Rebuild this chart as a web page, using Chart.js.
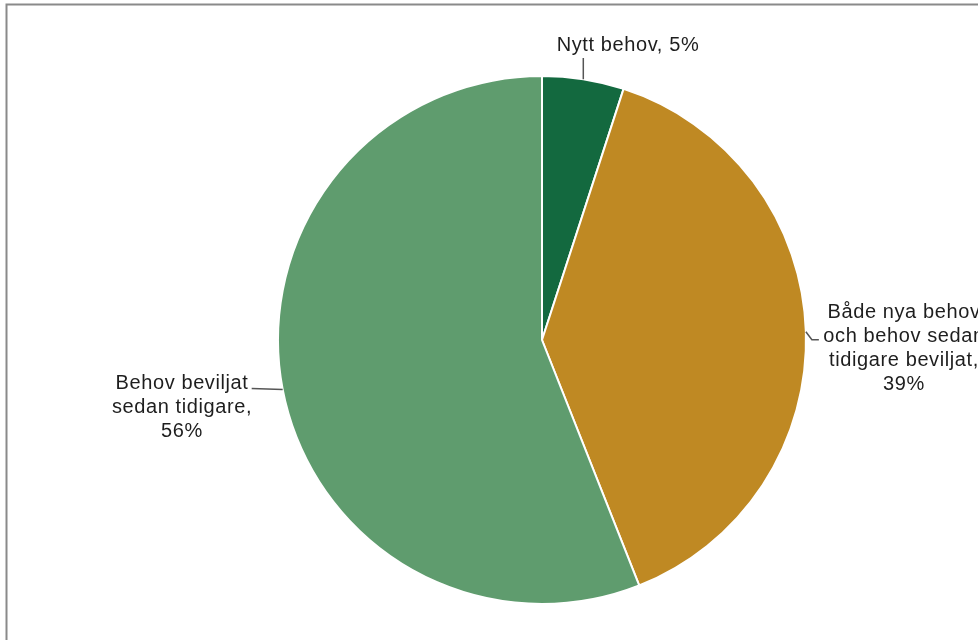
<!DOCTYPE html>
<html>
<head>
<meta charset="utf-8">
<script src="https://cdn.jsdelivr.net/npm/chart.js@4/dist/chart.umd.min.js"></script>
<style>
  html, body { margin: 0; padding: 0; background: #fff; }
  #wrap { width: 978px; height: 640px; position: relative; }
</style>
</head>
<body>
<div id="wrap"><canvas id="c" width="978" height="640"></canvas></div>
<script>
const categories = ['Nytt behov', 'Både nya behov och behov sedan tidigare beviljat', 'Behov beviljat sedan tidigare'];
const shares = [5, 39, 56];
const sliceColors = ['#13693f', '#bf8923', '#5f9c6e'];

// label text, split into lines as they are drawn
const labelLines = [
  ['Nytt behov, 5%'],
  ['Både nya behov', 'och behov sedan', 'tidigare beviljat,', '39%'],
  ['Behov beviljat', 'sedan tidigare,', '56%']
];

// where each label block sits, relative to the pie centre
const labelOffsets = [
  { dx: 86, dy: -295 },
  { dx: 362, dy: -28 },
  { dx: -360, dy: 43 }
];

const lineHeight = 24;

const framePlugin = {
  id: 'frame',
  beforeDraw(chart) {
    const ctx = chart.ctx;
    ctx.save();
    ctx.fillStyle = '#fff';
    ctx.fillRect(0, 0, chart.width, chart.height);
    ctx.strokeStyle = '#8a8a8a';
    ctx.lineWidth = 2;
    ctx.beginPath();
    ctx.moveTo(6.5, chart.height);
    ctx.lineTo(6.5, 4.5);
    ctx.lineTo(chart.width, 4.5);
    ctx.stroke();
    ctx.restore();
  }
};

const labelPlugin = {
  id: 'sliceLabels',
  afterDraw(chart) {
    const ctx = chart.ctx;
    const arcs = chart.getDatasetMeta(0).data;
    ctx.save();
    ctx.font = '20px "Liberation Sans", Arial, sans-serif';
    ctx.letterSpacing = '0.6px';
    ctx.fillStyle = '#1e1e1e';
    ctx.textAlign = 'center';
    ctx.textBaseline = 'middle';
    ctx.strokeStyle = '#555';
    ctx.lineWidth = 1.5;

    arcs.forEach((arc, i) => {
      const mid = (arc.startAngle + arc.endAngle) / 2;
      const px = arc.x + Math.cos(mid) * arc.outerRadius;
      const py = arc.y + Math.sin(mid) * arc.outerRadius;
      const tx = arc.x + labelOffsets[i].dx;
      const ty = arc.y + labelOffsets[i].dy;
      const lines = labelLines[i];

      // leader line from the slice edge to the label
      ctx.beginPath();
      ctx.moveTo(px, py);
      if (i === 0) {
        ctx.lineTo(px, ty + 13);
      } else if (i === 1) {
        ctx.lineTo(px + 6, py + 8);
        ctx.lineTo(px + 13, py + 8);
      } else {
        ctx.lineTo(px - 31, py - 1);
      }
      ctx.stroke();

      lines.forEach((t, k) => {
        ctx.fillText(t, tx, ty + k * lineHeight);
      });
    });
    ctx.restore();
  }
};

new Chart(document.getElementById('c'), {
  type: 'pie',
  data: {
    labels: categories,
    datasets: [{
      data: shares,
      backgroundColor: sliceColors,
      borderColor: '#ffffff',
      borderWidth: 2
    }]
  },
  options: {
    responsive: false,
    animation: false,
    layout: { padding: { left: 277, right: 171, top: 75, bottom: 35 } },
    plugins: {
      legend: { display: false },
      tooltip: { enabled: false }
    }
  },
  plugins: [framePlugin, labelPlugin]
});
</script>
</body>
</html>
